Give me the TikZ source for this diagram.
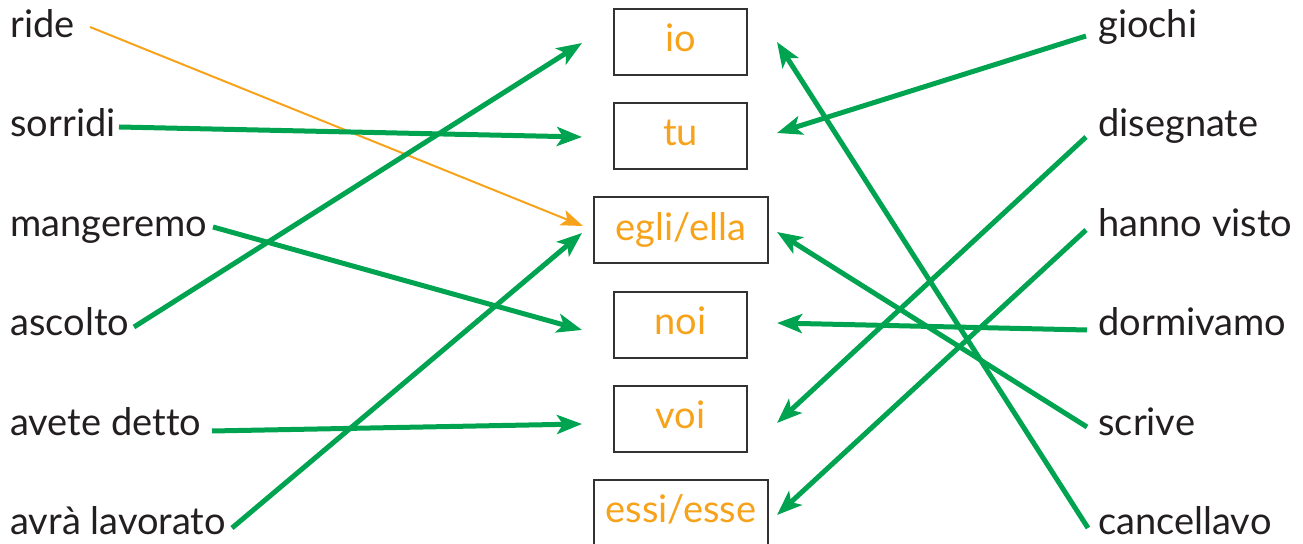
\documentclass[tikz,border=0pt]{standalone}
\usepackage{fontspec}
\setmainfont{Lato}[Ligatures=CommonOff]
\usetikzlibrary{arrows.meta}
\definecolor{grn}{RGB}{0,163,80}
\definecolor{org}{RGB}{246,163,27}
\definecolor{ink}{RGB}{35,31,32}
\definecolor{frame}{RGB}{50,50,50}
\tikzset{
  lbl/.style={anchor=base west, inner sep=0pt, text=ink, font=\fontsize{19}{22}\selectfont},
  pbox/.style={draw=frame, line width=1pt, inner sep=0pt, minimum height=33pt, text=org,
    text height=10pt, text depth=0pt, font=\fontsize{19}{22}\selectfont},
  narrow/.style={pbox, minimum width=66.5pt},
  wide/.style={pbox, minimum width=87pt},
  link/.style={draw=grn, line width=2.5pt, -{Stealth[length=12.5pt,width=9.5pt,inset=3pt]}},
  olink/.style={draw=org, line width=1pt, -{Stealth[length=11pt,width=8pt,inset=2.5pt]}}
}
\begin{document}
\begin{tikzpicture}[x=0.5pt,y=-0.5pt]
\useasboundingbox (0,0) rectangle (1303,544);
% boxes
\node[narrow] (io)   at (680.5,42)  {io};
\node[narrow] (tu)   at (680.5,136) {tu};
\node[wide]   (egli) at (681,230.5) {egli/ella};
\node[narrow] (noi)  at (680.5,325) {noi};
\node[narrow] (voi)  at (680.5,419) {voi};
\node[wide]   (essi) at (681,513)   {essi/esse};
% left labels
\node[lbl] (ride)  at (10,38)  {ride};
\node[lbl] (sorr)  at (10,137) {sorridi};
\node[lbl] (mang)  at (10,237) {mangeremo};
\node[lbl] (asco)  at (10,336) {ascolto};
\node[lbl] (avet)  at (10,436) {avete detto};
\node[lbl] (avra)  at (10,535) {avrà lavorato};
% right labels
\node[lbl] (gioc)  at (1098,38)  {giochi};
\node[lbl] (dise)  at (1098,137) {disegnate};
\node[lbl] (hann)  at (1098,237) {hanno visto};
\node[lbl] (dorm)  at (1098,336) {dormivamo};
\node[lbl] (scri)  at (1098,436) {scrive};
\node[lbl] (canc)  at (1098,535) {cancellavo};
% connector ends
\coordinate (ride-e) at (90,27);
\coordinate (sorr-e) at (119,127);
\coordinate (mang-e) at (213,227);
\coordinate (asco-e) at (134,327);
\coordinate (avet-e) at (212,431);
\coordinate (avra-e) at (232,528);
\coordinate (gioc-w) at (1086,36);
\coordinate (dise-w) at (1086,137);
\coordinate (hann-w) at (1086,230);
\coordinate (dorm-w) at (1087,330);
\coordinate (scri-w) at (1087,427);
\coordinate (canc-w) at (1088,528);
\coordinate (io-l)   at (582,43);
\coordinate (tu-l)   at (582,137);
\coordinate (egli-l1) at (583,226);
\coordinate (egli-l2) at (582,233);
\coordinate (noi-l)  at (582,330);
\coordinate (voi-l)  at (582,424);
\coordinate (io-r)   at (777,42);
\coordinate (tu-r)   at (777,133);
\coordinate (egli-r) at (777,232);
\coordinate (noi-r)  at (777,323);
\coordinate (voi-r)  at (777,423);
\coordinate (essi-r) at (777,515);
% connectors
\draw[olink] (ride-e) -- (egli-l1);
\draw[link] (sorr-e) -- (tu-l);
\draw[link] (mang-e) -- (noi-l);
\draw[link] (asco-e) -- (io-l);
\draw[link] (avet-e) -- (voi-l);
\draw[link] (avra-e) -- (egli-l2);
\draw[link] (gioc-w) -- (tu-r);
\draw[link] (dise-w) -- (voi-r);
\draw[link] (hann-w) -- (essi-r);
\draw[link] (dorm-w) -- (noi-r);
\draw[link] (scri-w) -- (egli-r);
\draw[link] (canc-w) -- (io-r);
\end{tikzpicture}
\end{document}
